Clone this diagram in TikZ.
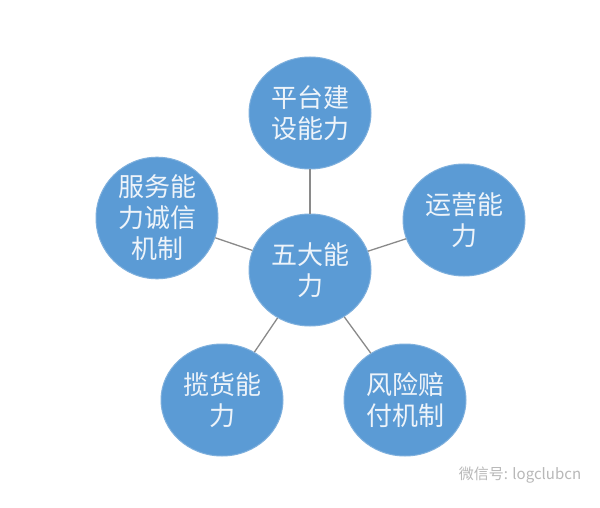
\documentclass[tikz,border=0pt]{standalone}
\usepackage{fontspec}
\newfontfamily\cjk{Noto Sans CJK SC}
\usetikzlibrary{shapes.geometric}
\definecolor{circblue}{HTML}{5B9BD5}
\definecolor{circedge}{HTML}{7FB0DD}
\definecolor{txtwhite}{HTML}{EEF4FA}
\definecolor{linegray}{HTML}{8A8A8A}
\definecolor{wmgray}{HTML}{B8B8B8}
\tikzset{
  bubble/.style={ellipse, fill=circblue, draw=circedge, line width=1pt,
    minimum width=122pt, minimum height=112pt, inner sep=0pt,
    font=\cjk\fontsize{26}{31}\selectfont, text=txtwhite, align=center},
  link/.style={draw=linegray, line width=1.3pt}
}
\begin{document}
\begin{tikzpicture}[x=1pt,y=-1pt]
\useasboundingbox (0,0) rectangle (600,508);
\fill[white] (0,0) rectangle (600,508);
\node[bubble] (c) at (310,270) {五大能\\力};
\node[bubble] (t) at (310,113) {平台建\\设能力};
\node[bubble] (l) at (157,218) {服务能\\力诚信\\机制};
\node[bubble] (r) at (464,220) {运营能\\力};
\node[bubble] (bl) at (222,400) {揽货能\\力};
\node[bubble] (br) at (405,400) {风险赔\\付机制};
\begin{scope}[on background layer/.try]
\end{scope}
\path[link] (c) -- (t);
\path[link] (c) -- (l);
\path[link] (c) -- (r);
\path[link] (c) -- (bl);
\path[link] (c) -- (br);
\node[text=wmgray, font=\cjk\fontsize{15}{18}\selectfont, anchor=center] (wm) at (520,475) {微信号: logclubcn};
\end{tikzpicture}
\end{document}
